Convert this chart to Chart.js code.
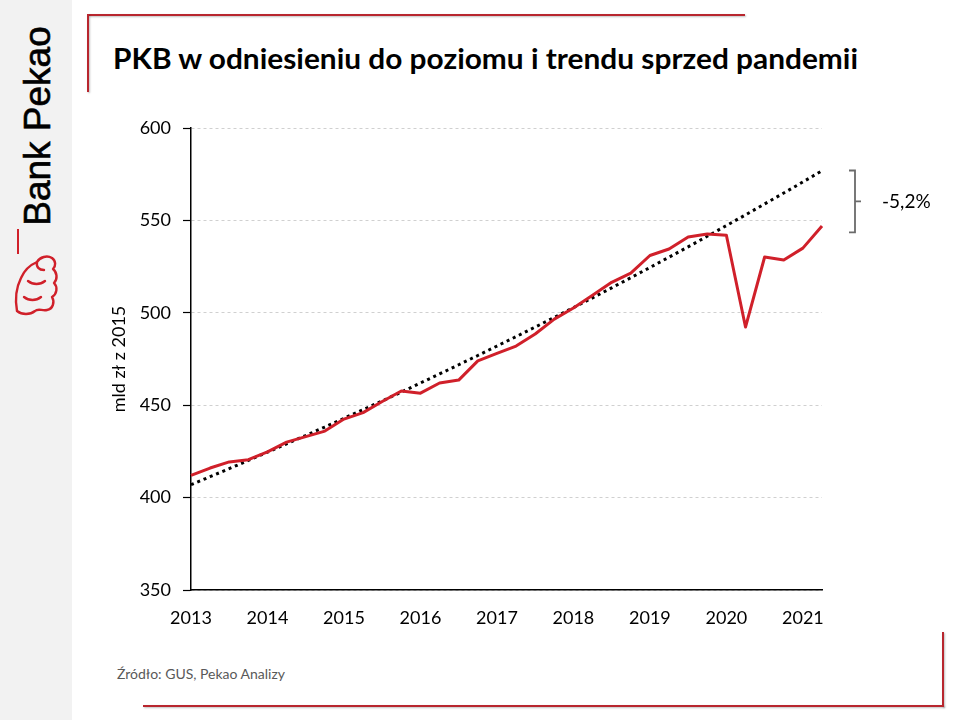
<!DOCTYPE html>
<html><head><meta charset="utf-8">
<script src="https://cdn.jsdelivr.net/npm/chart.js@4.4.1/dist/chart.umd.min.js"></script>
<style>
html,body{margin:0;padding:0;}
body{width:960px;height:720px;position:relative;overflow:hidden;background:#fff;font-family:Lato,'Open Sans',sans-serif;}
#strip{position:absolute;left:0;top:0;width:72px;height:720px;background:#f2f2f2;}
#brand{position:absolute;left:38px;top:126px;transform:translate(-50%,-50%) rotate(-90deg);font-family:'Liberation Sans',Arial,sans-serif;font-size:37px;color:#000;white-space:nowrap;-webkit-text-stroke:0.6px #000;}
.ln{position:absolute;background:#b8262e;box-shadow:1px 1px 2px rgba(0,0,0,0.25);}
#title{position:absolute;left:113px;top:40px;font-weight:700;font-size:29px;color:#000;white-space:nowrap;transform-origin:0 0;}
#source{position:absolute;left:117px;top:665px;font-size:14px;color:#595959;white-space:nowrap;}
#c{position:absolute;left:0;top:0;}
</style></head>
<body>
<div id="strip"></div>
<div id="brand">Bank Pekao</div>
<svg style="position:absolute;left:0;top:0" width="72" height="330">
  <line x1="18" y1="229" x2="18" y2="254" stroke="#d0202a" stroke-width="2"/>
  <g fill="none" stroke="#d0202a" stroke-width="2.4" stroke-linecap="round" stroke-linejoin="round">
    <path d="M17,311 C15,300 16,288 21,278 C24,271 30,265 37,262 C40,257 47,255 52,258 C56,261 56,266 53,269 C57,272 58,279 54,283 C58,287 57,294 52,297 C55,302 53,309 47,310 C42,311 38,308 35,311 C30,315 22,315 17,311"/>
    <path d="M37,262 C36,267 39,270 44,270"/>
    <path d="M28,281 C33,285 40,285 45,281"/>
    <path d="M24,297 C29,301 36,301 41,297"/>
  </g>
</svg>
<div class="ln" style="left:88px;top:14px;width:657px;height:2px;"></div>
<div class="ln" style="left:87px;top:14px;width:2px;height:78px;"></div>
<div class="ln" style="left:942px;top:632px;width:2px;height:75px;"></div>
<div class="ln" style="left:143px;top:705px;width:801px;height:2px;"></div>
<div id="title">PKB w odniesieniu do poziomu i trendu sprzed pandemii</div>
<div id="source">Źródło: GUS, Pekao Analizy</div>
<canvas id="c" width="960" height="720"></canvas>
<script>
// ---- data ----
const years = ['2013','2014','2015','2016','2017','2018','2019','2020','2021'];
const quarters = [
 '2013 Q1','2013 Q2','2013 Q3','2013 Q4',
 '2014 Q1','2014 Q2','2014 Q3','2014 Q4',
 '2015 Q1','2015 Q2','2015 Q3','2015 Q4',
 '2016 Q1','2016 Q2','2016 Q3','2016 Q4',
 '2017 Q1','2017 Q2','2017 Q3','2017 Q4',
 '2018 Q1','2018 Q2','2018 Q3','2018 Q4',
 '2019 Q1','2019 Q2','2019 Q3','2019 Q4',
 '2020 Q1','2020 Q2','2020 Q3','2020 Q4',
 '2021 Q1','2021 Q2'];
const gdp = [
 412.0, 416.0, 419.3, 420.5,
 424.7, 430.0, 433.0, 436.0,
 442.5, 446.0, 452.0, 457.7,
 456.5, 462.0, 463.6, 474.0,
 478.0, 482.0, 488.5, 496.6,
 502.6, 509.5, 516.5, 521.5,
 531.0, 534.5, 541.0, 542.6,
 542.0, 492.3, 530.2, 528.6,
 535.0, 547.0];
const trend = [
 407.0, 411.3, 415.7, 420.1,
 424.6, 429.1, 433.6, 438.2,
 442.9, 447.6, 452.3, 457.1,
 462.0, 466.9, 471.9, 476.9,
 482.0, 487.1, 492.3, 497.5,
 502.8, 508.1, 513.5, 519.0,
 524.5, 530.1, 535.7, 541.4,
 547.2, 553.0, 558.9, 564.8,
 570.8, 576.9];
const yTicks = [350, 400, 450, 500, 550, 600];
const gapLabel = '-5,2%';
const bracketTop = 577.0;
const bracketBottom = 543.5;
const yTitle = 'mld zł z 2015';

// fit title width
(function(){
  const t = document.getElementById('title');
  const w = t.getBoundingClientRect().width;
  t.style.transform = 'scaleX(' + (745 / w) + ')';
})();

const bracketPlugin = {
  id: 'bracket',
  afterDraw(chart) {
    const ctx = chart.ctx, y = chart.scales.y, area = chart.chartArea;
    const yt = y.getPixelForValue(bracketTop), yb = y.getPixelForValue(bracketBottom);
    const x = area.right + 33, ym = (yt + yb) / 2;
    ctx.save();
    ctx.strokeStyle = '#6b6b6b';
    ctx.lineWidth = 1.8;
    ctx.beginPath();
    ctx.moveTo(x - 6, yt); ctx.lineTo(x, yt); ctx.lineTo(x, yb); ctx.lineTo(x - 6, yb);
    ctx.moveTo(x, ym); ctx.lineTo(x + 6, ym);
    ctx.stroke();
    ctx.fillStyle = '#000';
    ctx.font = '19px Lato, "Open Sans", sans-serif';
    ctx.textAlign = 'left';
    ctx.textBaseline = 'middle';
    ctx.fillText(gapLabel, x + 27, ym);
    ctx.restore();
  }
};

new Chart(document.getElementById('c'), {
  type: 'line',
  data: {
    labels: quarters,
    datasets: [
      { label: 'trend', data: trend, borderColor: '#000', borderWidth: 3, borderDash: [3, 3.8],
        pointRadius: 0, tension: 0, fill: false, order: 2 },
      { label: 'PKB', data: gdp, borderColor: '#d0202a', borderWidth: 3, pointRadius: 0,
        tension: 0, fill: false, order: 1, borderJoinStyle: 'round' }
    ]
  },
  options: {
    responsive: false,
    animation: false,
    events: [],
    layout: { padding: { left: 104, top: 128, right: 138, bottom: 84 } },
    plugins: { legend: { display: false }, tooltip: { enabled: false } },
    scales: {
      x: {
        type: 'category',
        offset: false,
        grid: { display: false, drawTicks: false },
        border: { display: true, color: '#000', width: 1.5 },
        ticks: {
          autoSkip: false, maxRotation: 0, padding: 17, color: '#000',
          font: { family: 'Lato, "Open Sans", sans-serif', size: 18 },
          callback(v, i) { const q = quarters[i]; return q.endsWith('Q1') ? years[years.indexOf(q.slice(0,4))] : ''; }
        },
        afterFit(s) { s.height = 46; }
      },
      y: {
        min: 350, max: 600,
        afterBuildTicks(s) { s.ticks = yTicks.map(v => ({ value: v })); },
        grid: { color: '#d0d0d0', lineWidth: 1, drawTicks: true, tickLength: 8, tickColor: '#000', tickWidth: 1.2 },
        border: { display: true, color: '#000', width: 1.5, dash: [3, 3] },
        ticks: { padding: 12, color: '#000', font: { family: 'Lato, "Open Sans", sans-serif', size: 18 } },
        title: { display: true, text: yTitle, color: '#000', padding: { top: 4, bottom: 0 },
                 font: { family: 'Lato, "Open Sans", sans-serif', size: 18 } },
        afterFit(s) { s.width = 87; }
      }
    }
  },
  plugins: [bracketPlugin]
});
</script>
</body></html>
